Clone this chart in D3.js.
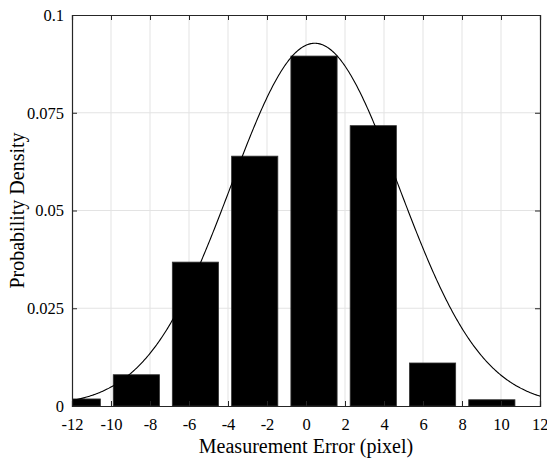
<!DOCTYPE html>
<html><head><meta charset="utf-8">
<script src="https://cdn.jsdelivr.net/npm/d3@7"></script>
<style>body{margin:0;background:#fff;}svg{display:block;}</style>
</head><body>
<script>
// Histogram bins (centers, pixel) and probability densities
const binCenters = [-11.73, -8.70, -5.67, -2.63, 0.41, 3.45, 6.49, 9.53];
const densities  = [0.0018, 0.0080, 0.0368, 0.0639, 0.0895, 0.0717, 0.0110, 0.0016];
const barWidth = 2.37;
// Fitted normal distribution parameters
const fitMean = 0.45, fitSigma = 4.3;
const xTicks = [-12,-10,-8,-6,-4,-2,0,2,4,6,8,10,12];
const yTicks = [0, 0.025, 0.05, 0.075, 0.1];
const yTickLabels = ["0","0.025","0.05","0.075","0.1"];

const W = 547, H = 461;
const m = {left:72, right:7, top:15, bottom:55};
const svg = d3.select("body").append("svg").attr("width",W).attr("height",H);
const x = d3.scaleLinear().domain([-12,12]).range([m.left, W-m.right]);
const y = d3.scaleLinear().domain([0,0.1]).range([H-m.bottom, m.top]);
const font = "'Liberation Serif','Times New Roman',serif";

svg.append("defs").append("clipPath").attr("id","clip").append("rect")
  .attr("x",x(-12)).attr("y",y(0.1)).attr("width",x(12)-x(-12)).attr("height",y(0)-y(0.1));

// grid
const grid = svg.append("g").attr("stroke","#e3e3e3").attr("stroke-width",1);
grid.selectAll(".gx").data(xTicks.slice(1,-1)).join("line")
  .attr("x1",d=>x(d)).attr("x2",d=>x(d)).attr("y1",y(0)).attr("y2",y(0.1));
grid.selectAll(".gy").data(yTicks.slice(1,-1)).join("line")
  .attr("y1",d=>y(d)).attr("y2",d=>y(d)).attr("x1",x(-12)).attr("x2",x(12));

// bars
const plot = svg.append("g").attr("clip-path","url(#clip)");
plot.selectAll("rect.bar").data(binCenters).join("rect").attr("class","bar")
  .attr("x",(d)=>x(d-barWidth/2)).attr("width",x(barWidth)-x(0))
  .attr("y",(d,i)=>y(densities[i])).attr("height",(d,i)=>y(0)-y(densities[i]))
  .attr("fill","#000").attr("stroke","#333").attr("stroke-width",0.8);

// normal fit curve
const xs = d3.range(-12, 12.001, 0.05);
const pdf = v => Math.exp(-0.5*((v-fitMean)/fitSigma)**2)/(fitSigma*Math.sqrt(2*Math.PI));
plot.append("path").datum(xs)
  .attr("d", d3.line().x(d=>x(d)).y(d=>y(pdf(d))))
  .attr("fill","none").attr("stroke","#000").attr("stroke-width",1.1);

// axes
const tl = 5;
const axB = svg.append("g").attr("transform",`translate(0,${y(0)})`)
  .call(d3.axisBottom(x).tickValues(xTicks).tickSize(-tl).tickPadding(12).tickFormat(d=>d<0?"-"+Math.abs(d):d));
const axT = svg.append("g").attr("transform",`translate(0,${y(0.1)})`)
  .call(d3.axisTop(x).tickValues(xTicks).tickSize(-tl).tickFormat(""));
const axL = svg.append("g").attr("transform",`translate(${x(-12)},0)`)
  .call(d3.axisLeft(y).tickValues(yTicks).tickSize(-tl).tickPadding(8).tickFormat((d,i)=>yTickLabels[i]));
const axR = svg.append("g").attr("transform",`translate(${x(12)},0)`)
  .call(d3.axisRight(y).tickValues(yTicks).tickSize(-tl).tickFormat(""));
[axB,axT,axL,axR].forEach(a=>{
  a.select(".domain").attr("stroke","#262626").attr("stroke-width",1.2);
  a.selectAll(".tick line").attr("stroke","#262626").attr("stroke-width",1);
  a.selectAll("text").attr("font-family",font).attr("font-size",16.5).attr("fill","#000");
});
axB.selectAll(".tick").filter(d=>d===12).select("text").attr("text-anchor","end").attr("dx",8);
axB.selectAll(".tick").filter(d=>d===-12||d===12).select("line").remove();
axT.selectAll(".tick").filter(d=>d===-12||d===12).select("line").remove();
axL.selectAll(".tick").filter(d=>d===0||d===0.1).select("line").remove();
axR.selectAll(".tick").filter(d=>d===0||d===0.1).select("line").remove();

svg.append("text").attr("x",(x(-12)+x(12))/2).attr("y",453)
  .attr("text-anchor","middle").attr("font-family",font).attr("font-size",20)
  .text("Measurement Error (pixel)");
svg.append("text").attr("transform",`translate(24,${(y(0)+y(0.1))/2}) rotate(-90)`)
  .attr("text-anchor","middle").attr("font-family",font).attr("font-size",20)
  .text("Probability Density");
</script>
</body></html>
